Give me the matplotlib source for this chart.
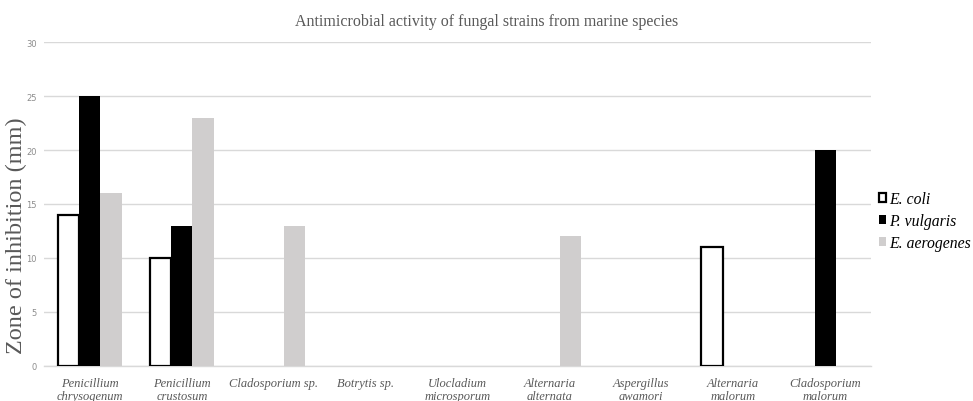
import matplotlib
matplotlib.use('Agg')
import matplotlib.pyplot as plt
import numpy as np

categories = ['Penicillium\nchrysogenum', 'Penicillium\ncrustosum', 'Cladosporium sp.',
              'Botrytis sp.', 'Ulocladium\nmicrosporum', 'Alternaria\nalternata',
              'Aspergillus\nawamori', 'Alternaria\nmalorum', 'Cladosporium\nmalorum']
e_coli = [14, 10, 0, 0, 0, 0, 0, 11, 0]
p_vulgaris = [25, 13, 0, 0, 0, 0, 0, 0, 20]
e_aerogenes = [16, 23, 13, 0, 0, 12, 0, 0, 0]
y_ticks = [0, 5, 10, 15, 20, 25, 30]

serif = 'Liberation Serif'
fig = plt.figure(figsize=(9.73, 4.02), dpi=100)
ax = fig.add_axes([0.0452, 0.0871, 0.8500, 0.8059])

x = np.arange(len(categories))
w = 0.23
series = [
    (e_coli, -w, dict(facecolor='white', edgecolor='black', linewidth=1.6), 'E. coli'),
    (p_vulgaris, 0, dict(facecolor='black', edgecolor='black', linewidth=0), 'P. vulgaris'),
    (e_aerogenes, w, dict(facecolor='#d0cece', edgecolor='#d0cece', linewidth=0), 'E. aerogenes'),
]
handles = []
for vals, off, style, label in series:
    bars = ax.bar(x + off, vals, width=w, label=label, zorder=3, **style)
    for b, v in zip(bars, vals):
        if v == 0:
            b.set_visible(False)
    handles.append(bars)

ax.set_xlim(-0.5, len(categories) - 0.5)
ax.set_ylim(0, 30)
ax.set_yticks(y_ticks)
ax.yaxis.grid(True, color='#d9d9d9', linewidth=1, zorder=0)
ax.set_axisbelow(True)
for s in ['top', 'right', 'left']:
    ax.spines[s].set_visible(False)
ax.spines['bottom'].set_color('#d9d9d9')
ax.spines['bottom'].set_linewidth(1)
ax.tick_params(axis='both', length=0)
ax.tick_params(axis='y', labelsize=6, labelcolor='#8c8c8c', pad=5)
ax.set_xticks(x)
ax.set_xticklabels(categories, fontfamily=serif, fontstyle='italic', fontsize=9,
                   color='#595959', linespacing=1.15)
ax.tick_params(axis='x', pad=8)

# y label sits a bit below the axes centre in the original
fig.text(0.0165, 0.413, 'Zone of inhibition (mm)', rotation=90, ha='center', va='center',
         fontfamily=serif, fontsize=17.5, color='#595959')
fig.text(0.5, 0.945, 'Antimicrobial activity of fungal strains from marine species',
         ha='center', va='center', fontfamily=serif, fontsize=11.5, color='#595959')

leg = fig.legend(handles=handles, loc='center left', bbox_to_anchor=(0.903, 0.447),
                 frameon=False, borderaxespad=0, borderpad=0,
                 prop={'family': serif, 'style': 'italic', 'size': 11.3},
                 handlelength=0.5, handleheight=0.5, handletextpad=0.15, labelspacing=0.38)

fig.savefig('out.png', dpi=100)
